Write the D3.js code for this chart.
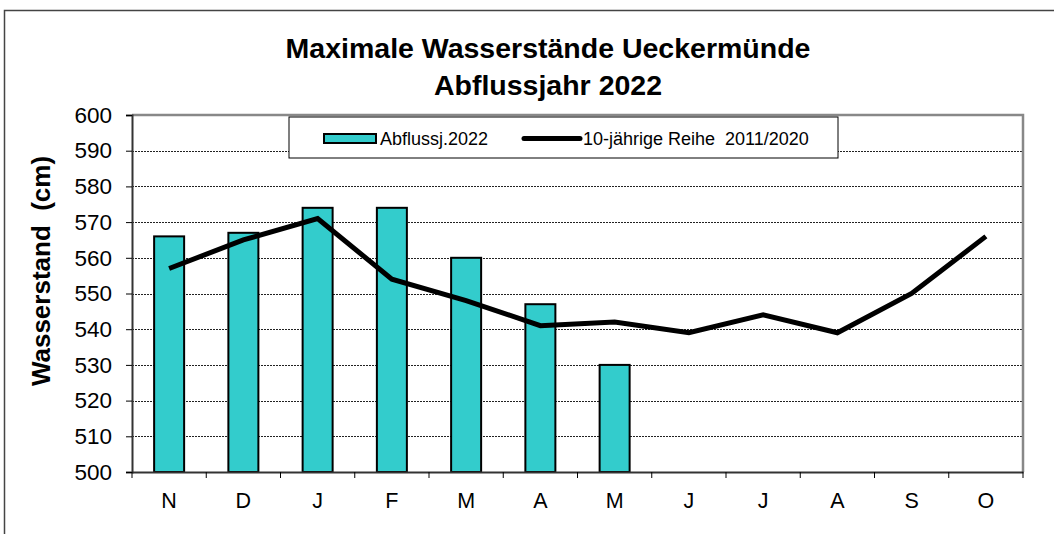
<!DOCTYPE html>
<html>
<head>
<meta charset="utf-8">
<script src="https://cdn.jsdelivr.net/npm/d3@7"></script>
<style>
  body { margin: 0; background: #fff; }
  svg { display: block; font-family: "Liberation Sans", Arial, sans-serif; }
</style>
</head>
<body>
<div id="chart"></div>
<script>
// months of the Abflussjahr (Nov - Oct)
const months = ["N", "D", "J", "F", "M", "A", "M", "J", "J", "A", "S", "O"];
const abfluss2022 = [566, 567, 574, 574, 560, 547, 530];
const reihe = [557, 565, 571, 554, 548, 541, 542, 539, 544, 539, 550, 566];
const yTicks = [500, 510, 520, 530, 540, 550, 560, 570, 580, 590, 600];

const width = 1054, height = 534,
    margin = ({top: 115, right: 31, bottom: 62, left: 132});

const svg = d3.select("#chart").append("svg")
    .attr("width", width).attr("height", height)
    .attr("viewBox", [0, 0, width, height]);

// outer frame (only left and top visible)
svg.append("path")
    .attr("d", `M4.5,${height} V10.5 H${width}`)
    .attr("fill", "none").attr("stroke", "#444").attr("stroke-width", 1.5);

const x = d3.scaleBand()
    .domain(d3.range(months.length))
    .range([margin.left, width - margin.right]);

const y = d3.scaleLinear()
    .domain([500, 600])
    .range([height - margin.bottom, margin.top]);

// gridlines
svg.append("g")
    .selectAll("line")
    .data(yTicks.filter(d => d > 500 && d < 600))
    .join("line")
    .attr("x1", margin.left).attr("x2", width - margin.right)
    .attr("y1", d => Math.round(y(d)) + 0.5).attr("y2", d => Math.round(y(d)) + 0.5)
    .attr("stroke", "#222").attr("stroke-width", 1)
    .attr("stroke-dasharray", "2,1");

// plot frame top/right in gray
svg.append("path")
    .attr("d", `M${margin.left},${y(600)} H${width - margin.right} V${y(500)}`)
    .attr("fill", "none").attr("stroke", "#888").attr("stroke-width", 2.5);

// bars
const barW = 30;
svg.append("g")
    .selectAll("rect")
    .data(abfluss2022)
    .join("rect")
    .attr("x", (d, i) => x(i) + x.bandwidth() / 2 - barW / 2)
    .attr("width", barW)
    .attr("y", d => y(d))
    .attr("height", d => y(500) - y(d))
    .attr("fill", "#33CCCC")
    .attr("stroke", "#000").attr("stroke-width", 2);

// axes
const yAxis = g => g
    .attr("transform", `translate(${margin.left},0)`)
    .call(d3.axisLeft(y).tickValues(yTicks).tickSize(6).tickPadding(14))
    .call(g => g.select(".domain").attr("stroke", "#333").attr("stroke-width", 2))
    .call(g => g.selectAll(".tick line").attr("stroke", "#000"))
    .call(g => g.selectAll("text").attr("font-size", 22.5).attr("fill", "#000"));

const xAxis = g => g
    .attr("transform", `translate(0,${height - margin.bottom})`)
    .call(d3.axisBottom(x).tickFormat(i => months[i]).tickSize(0).tickPadding(21))
    .call(g => g.select(".domain").attr("stroke", "#333").attr("stroke-width", 2))
    .call(g => g.selectAll("text").attr("font-size", 21.5).attr("fill", "#000"));

svg.append("g").call(xAxis);
svg.append("g").call(yAxis);

// tick marks between categories
svg.append("g")
    .selectAll("line")
    .data(d3.range(months.length + 1))
    .join("line")
    .attr("x1", i => i < months.length ? x(i) : x.range()[1])
    .attr("x2", i => i < months.length ? x(i) : x.range()[1])
    .attr("y1", y(500)).attr("y2", y(500) + 6)
    .attr("stroke", "#000").attr("stroke-width", 1);

// line series
const line = d3.line()
    .x((d, i) => x(i) + x.bandwidth() / 2)
    .y(d => y(d));

svg.append("path")
    .datum(reihe)
    .attr("d", line)
    .attr("fill", "none")
    .attr("stroke", "#000").attr("stroke-width", 5)
    .attr("stroke-linejoin", "miter");

// title
const title = svg.append("text")
    .attr("text-anchor", "middle")
    .attr("font-size", 28.5).attr("font-weight", "bold");
title.append("tspan").attr("x", 548).attr("y", 58).text("Maximale Wasserstände Ueckermünde");
title.append("tspan").attr("x", 548).attr("y", 95).text("Abflussjahr 2022");

// y label
svg.append("text")
    .attr("transform", "translate(50,271) rotate(-90)")
    .attr("text-anchor", "middle")
    .attr("font-size", 26).attr("font-weight", "bold")
    .attr("xml:space", "preserve")
    .text("Wasserstand  (cm)");

// legend
const lg = svg.append("g");
lg.append("rect")
    .attr("x", 289).attr("y", 117).attr("width", 549).attr("height", 41)
    .attr("fill", "#fff").attr("stroke", "#000").attr("stroke-width", 1);
lg.append("rect")
    .attr("x", 324).attr("y", 134).attr("width", 52).attr("height", 9)
    .attr("fill", "#33CCCC").attr("stroke", "#000").attr("stroke-width", 2);
lg.append("text")
    .attr("x", 380).attr("y", 145).attr("font-size", 18)
    .text("Abflussj.2022");
lg.append("line")
    .attr("x1", 524).attr("x2", 580).attr("y1", 138.5).attr("y2", 138.5)
    .attr("stroke", "#000").attr("stroke-width", 5).attr("stroke-linecap", "round");
lg.append("text")
    .attr("x", 583).attr("y", 145).attr("font-size", 18)
    .attr("xml:space", "preserve")
    .text("10-jährige Reihe  2011/2020");
</script>
</body>
</html>
